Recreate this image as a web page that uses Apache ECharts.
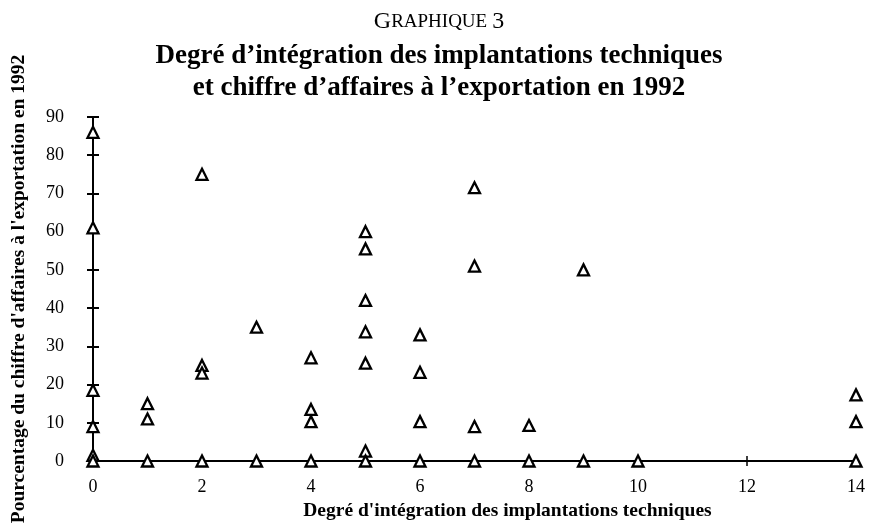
<!DOCTYPE html>
<html>
<head>
<meta charset="utf-8">
<script src="https://cdn.jsdelivr.net/npm/echarts@6/dist/echarts.min.js"></script>
<style>
  html,body{margin:0;padding:0;background:#fff;}
  #chart{width:875px;height:526px;}
</style>
</head>
<body>
<div id="chart"></div>
<script>
// degré d'intégration (x) et % du CA à l'export (y), point par point
var degre = [
  0, 0, 0, 0, 0, 0,
  1, 1, 1,
  2, 2, 2, 2,
  3, 3,
  4, 4, 4, 4,
  5, 5, 5, 5, 5, 5, 5,
  6, 6, 6, 6,
  7, 7, 7, 7,
  8, 8,
  9, 9,
  10,
  14, 14, 14
]
var exportPct = [
  86, 61, 18.5, 9, 1.5, 0,
  15, 11, 0,
  75, 25, 23, 0,
  35, 0,
  27, 13.5, 10.3, 0,
  60, 55.5, 42, 33.8, 25.6, 2.6, 0,
  33, 23.2, 10.3, 0,
  71.5, 51, 9, 0,
  9.3, 0,
  50, 0,
  0,
  17.3, 10.3, 0
]
var xTicks = [0, 14, 2]
var yTicks = [0, 90, 10]

var serif = 'Liberation Serif'

var points = degre.map(function (d, i) { return [d, exportPct[i]] })

var myChart = echarts.init(document.getElementById('chart'))

var axisLineStyle = { color: '#000', width: 2 }

var option = {
  backgroundColor: '#fff',
  animation: false,
  title: [
    {
      text: '{a|G}{b|RAPHIQUE} {a|3}',
      left: 434, top: 5, textAlign: 'center',
      textStyle: {
        fontWeight: 'normal',
        rich: {
          a: { fontFamily: serif, fontSize: 24, fontWeight: 'normal', color: '#000' },
          b: { fontFamily: serif, fontSize: 19, fontWeight: 'normal', color: '#000' }
        }
      }
    },
    {
      text: 'Degré d’intégration des implantations techniques\net chiffre d’affaires à l’exportation en 1992',
      left: 434, top: 35, textAlign: 'center',
      textStyle: { fontFamily: serif, fontSize: 27, fontWeight: 'bold', color: '#000', lineHeight: 32 }
    }
  ],
  grid: { left: 93, right: 19, top: 117, bottom: 65, outerBoundsMode: 'none', containLabel: false },
  xAxis: [{
    type: 'value',
    min: xTicks[0], max: xTicks[1], interval: xTicks[2],
    name: "Degré d'intégration des implantations techniques",
    nameLocation: 'middle', nameGap: 36,
    nameTextStyle: { fontFamily: serif, fontSize: 19.5, fontWeight: 'bold', color: '#000', padding: [0, 0, 0, 66] },
    axisLine: { onZero: false, lineStyle: axisLineStyle },
    axisTick: { length: 5, lineStyle: { color: '#000', width: 1.5 } },
    axisLabel: { fontFamily: serif, fontSize: 18, color: '#000', margin: 17 },
    splitLine: { show: false }
  }, {
    type: 'value', position: 'bottom',
    min: xTicks[0], max: xTicks[1], interval: xTicks[2],
    axisLine: { show: false },
    axisTick: { inside: true, length: 5, lineStyle: { color: '#000', width: 1.5 } },
    axisLabel: { show: false },
    splitLine: { show: false }
  }],
  yAxis: [{
    type: 'value',
    min: yTicks[0], max: yTicks[1], interval: yTicks[2],
    name: "Pourcentage du chiffre d'affaires à l'exportation en 1992",
    nameLocation: 'middle', nameGap: 64, nameRotate: 90,
    nameTextStyle: { fontFamily: serif, fontSize: 19.5, fontWeight: 'bold', color: '#000' },
    axisLine: { show: true, onZero: false, lineStyle: axisLineStyle },
    axisTick: { show: true, length: 6, lineStyle: { color: '#000', width: 2 } },
    axisLabel: { fontFamily: serif, fontSize: 18, color: '#000', margin: 29 },
    splitLine: { show: false }
  }, {
    type: 'value', position: 'left',
    min: yTicks[0], max: yTicks[1], interval: yTicks[2],
    axisLine: { show: false },
    axisTick: { show: true, inside: true, length: 6, lineStyle: { color: '#000', width: 2 } },
    axisLabel: { show: false },
    splitLine: { show: false }
  }],
  series: [{
    type: 'scatter',
    data: points,
    symbol: 'triangle',
    symbolSize: 11,
    clip: false,
    itemStyle: { color: '#fff', borderColor: '#000', borderWidth: 2.3, opacity: 1 }
  }]
}

myChart.setOption(option, true)
</script>
</body>
</html>
